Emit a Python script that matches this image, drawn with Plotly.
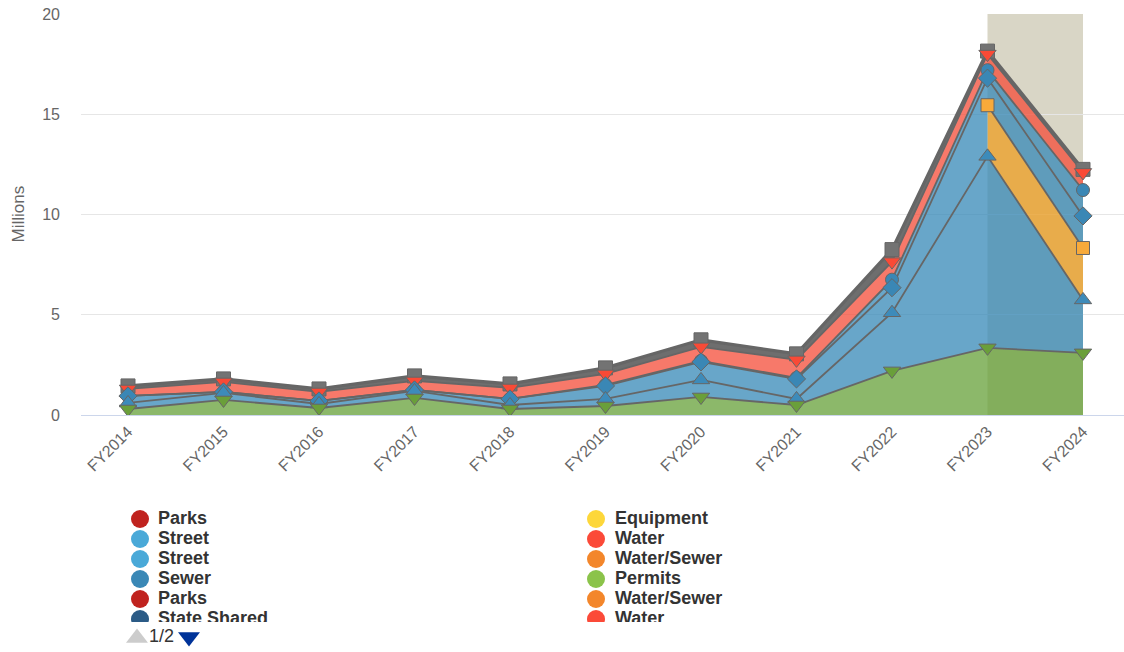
import plotly.graph_objects as go

# ---- data (millions) ----
years = ["FY2014", "FY2015", "FY2016", "FY2017", "FY2018", "FY2019",
         "FY2020", "FY2021", "FY2022", "FY2023", "FY2024"]

permits = [0.30, 0.75, 0.35, 0.85, 0.30, 0.45, 0.90, 0.50, 2.20, 3.35, 3.10]
street_a = [0.30, 0.35, 0.20, 0.35, 0.20, 0.35, 0.85, 0.30, 2.90, 9.55, 2.64]
water_sewer = [None, None, None, None, None, None, None, None, None, 2.55, 2.59]
sewer = [0.35, 0.05, 0.15, 0.05, 0.30, 0.65, 0.90, 1.00, 1.25, 1.35, 1.60]
street_b = [0.00, 0.00, 0.00, 0.00, 0.00, 0.05, 0.05, 0.05, 0.40, 0.40, 1.29]
water = [0.35, 0.50, 0.45, 0.45, 0.55, 0.55, 0.70, 0.90, 0.90, 0.80, 0.88]
parks = [0.15, 0.15, 0.15, 0.25, 0.20, 0.30, 0.35, 0.30, 0.60, 0.15, 0.15]

y_ticks = [0, 5, 10, 15, 20]

legend_left = ["Parks", "Street", "Street", "Sewer", "Parks", "State Shared"]
legend_left_colors = ["#c0231f", "#4aa9d8", "#4aa9d8", "#3a88b6", "#c0231f", "#2b5b86"]
legend_right = ["Equipment", "Water", "Water/Sewer", "Permits", "Water/Sewer", "Water"]
legend_right_colors = ["#fdd73a", "#fb4a38", "#f3862b", "#8bc34a", "#f3862b", "#fb4a38"]

# stacking order, bottom to top
layers = [
    dict(name="Permits", values=permits, fill="rgba(101,160,56,0.75)",
         symbol="triangle-down", mcolor="#6a9f3a", msize=15),
    dict(name="Street", values=street_a, fill="rgba(53,136,183,0.75)",
         symbol="triangle-up", mcolor="#3d8bba", msize=15),
    dict(name="Water/Sewer", values=water_sewer, fill="rgba(236,160,40,0.78)",
         symbol="square", mcolor="#f8aa3a", msize=13),
    dict(name="Sewer", values=sewer, fill="rgba(53,136,183,0.75)",
         symbol="diamond", mcolor="#3a87b5", msize=14),
    dict(name="Street", values=street_b, fill="rgba(53,136,183,0.75)",
         symbol="circle", mcolor="#3a87b5", msize=13),
    dict(name="Water", values=water, fill="rgba(244,76,56,0.75)",
         symbol="triangle-down", mcolor="#f94a36", msize=15),
    dict(name="Parks", values=parks, fill="rgba(102,102,102,0.95)",
         symbol="square", mcolor="#737373", msize=14),
]

W, H = 1124, 652
PLOT_L, PLOT_T, PLOT_B = 81, 14, 415
FONT = "Liberation Sans, Arial, sans-serif"

fig = go.Figure()

# background band over the last two fiscal years
fig.add_shape(type="rect", xref="x", yref="y domain", x0=9, x1=10, y0=0, y1=1,
              fillcolor="#d9d6c6", line=dict(width=0), layer="below")

# build stacked polygons (a series may start part-way through the axis)
n = len(years)
bottom_cols = [[0.0] for _ in range(n)]
tops = []
for layer in layers:
    vals = layer["values"]
    cols = []
    for i, v in enumerate(vals):
        base = bottom_cols[i][-1]
        if v is None:
            cols.append([base])
        elif i > 0 and vals[i - 1] is None:
            cols.append([base, base + v])
        else:
            cols.append([base + v])
    xs, ys = [], []
    for i, c in enumerate(cols):
        for y in c:
            xs.append(i)
            ys.append(y)
    for i in reversed(range(n)):
        for y in reversed(bottom_cols[i]):
            xs.append(i)
            ys.append(y)
    fig.add_trace(go.Scatter(x=xs, y=ys, mode="lines", fill="toself",
                             fillcolor=layer["fill"], line=dict(width=0),
                             hoverinfo="skip", showlegend=False))
    tops.append([c[-1] if v is not None else None for c, v in zip(cols, vals)])
    bottom_cols = cols

# series outlines
for k, (layer, top) in enumerate(zip(layers, tops)):
    xi = [i for i, t in enumerate(top) if t is not None]
    yi = [top[i] for i in xi]
    fig.add_trace(go.Scatter(x=xi, y=yi, mode="lines",
                             line=dict(color="#666666", width=3.2 if k == len(layers) - 1 else 1.8),
                             hoverinfo="skip", showlegend=False))

# point markers, upper series first
for layer, top in reversed(list(zip(layers, tops))):
    xi = [i for i, t in enumerate(top) if t is not None]
    yi = [top[i] for i in xi]
    fig.add_trace(go.Scatter(x=xi, y=yi, mode="markers", name=layer["name"],
                             marker=dict(symbol=layer["symbol"], size=layer["msize"],
                                         color=layer["mcolor"],
                                         line=dict(color="#666666", width=1)),
                             showlegend=False))

# legend block (clipped list)
rows = [519 + 20 * r for r in range(len(legend_left))]
for names, colors, sx, tx in [(legend_left, legend_left_colors, 140, 158),
                              (legend_right, legend_right_colors, 596, 615)]:
    fig.add_trace(go.Scatter(x=[sx] * len(names), y=rows, mode="markers",
                             marker=dict(size=18, color=colors, line=dict(width=0)),
                             xaxis="x2", yaxis="y2", cliponaxis=True,
                             hoverinfo="skip", showlegend=False))
    fig.add_trace(go.Scatter(x=[tx] * len(names), y=rows, mode="text", text=names,
                             textposition="middle right",
                             textfont=dict(family=FONT, size=18, color="#333333",
                                           weight="bold"),
                             xaxis="x2", yaxis="y2", cliponaxis=True,
                             hoverinfo="skip", showlegend=False))

# legend pager
fig.add_trace(go.Scatter(x=[137, 189], y=[638, 637], mode="markers",
                         marker=dict(symbol=["triangle-up", "triangle-down"], size=19,
                                     color=["#cccccc", "#003399"], line=dict(width=0)),
                         xaxis="x3", yaxis="y3", cliponaxis=False,
                         hoverinfo="skip", showlegend=False))
fig.add_trace(go.Scatter(x=[149], y=[637], mode="text", text=["1/2"],
                         textposition="middle right",
                         textfont=dict(family=FONT, size=18, color="#333333"),
                         xaxis="x3", yaxis="y3", cliponaxis=False,
                         hoverinfo="skip", showlegend=False))

fig.add_annotation(text="Millions", xref="paper", yref="paper",
                   x=18 / W, y=1 - 214.5 / H, xanchor="center", yanchor="middle",
                   textangle=-90, showarrow=False,
                   font=dict(family=FONT, size=17, color="#666666"))

x_scale = 95.5
x0 = -(128 - PLOT_L) / x_scale
x1 = x0 + (W - PLOT_L) / x_scale

fig.update_layout(
    width=W, height=H,
    margin=dict(l=0, r=0, t=0, b=0, pad=0, autoexpand=False),
    paper_bgcolor="white", plot_bgcolor="rgba(0,0,0,0)",
    font=dict(family=FONT, color="#666666"),
    showlegend=False,
    xaxis=dict(domain=[PLOT_L / W, 1], range=[x0, x1],
               tickmode="array", tickvals=list(range(n)), ticktext=years,
               tickangle=-45, tickfont=dict(size=16, color="#666666"),
               showgrid=False, zeroline=False, showline=True,
               linecolor="#ccd6eb", linewidth=1, ticks="", fixedrange=True,
               anchor="y"),
    yaxis=dict(domain=[1 - PLOT_B / H, 1 - PLOT_T / H], range=[0, 20],
               tickvals=y_ticks, tickfont=dict(size=16, color="#666666"),
               showgrid=True, gridcolor="#e6e6e6", gridwidth=1,
               zeroline=False, showline=False, ticks="",
               ticklabelstandoff=20, anchor="x"),
    xaxis2=dict(domain=[0, 1], range=[0, W], visible=False, anchor="y2"),
    yaxis2=dict(domain=[30 / H, 144 / H], range=[622, 508], visible=False, anchor="x2"),
    xaxis3=dict(domain=[0, 1], range=[0, W], visible=False, anchor="y3"),
    yaxis3=dict(domain=[0, 30 / H], range=[652, 622], visible=False, anchor="x3"),
)

fig.write_html("out.html")
